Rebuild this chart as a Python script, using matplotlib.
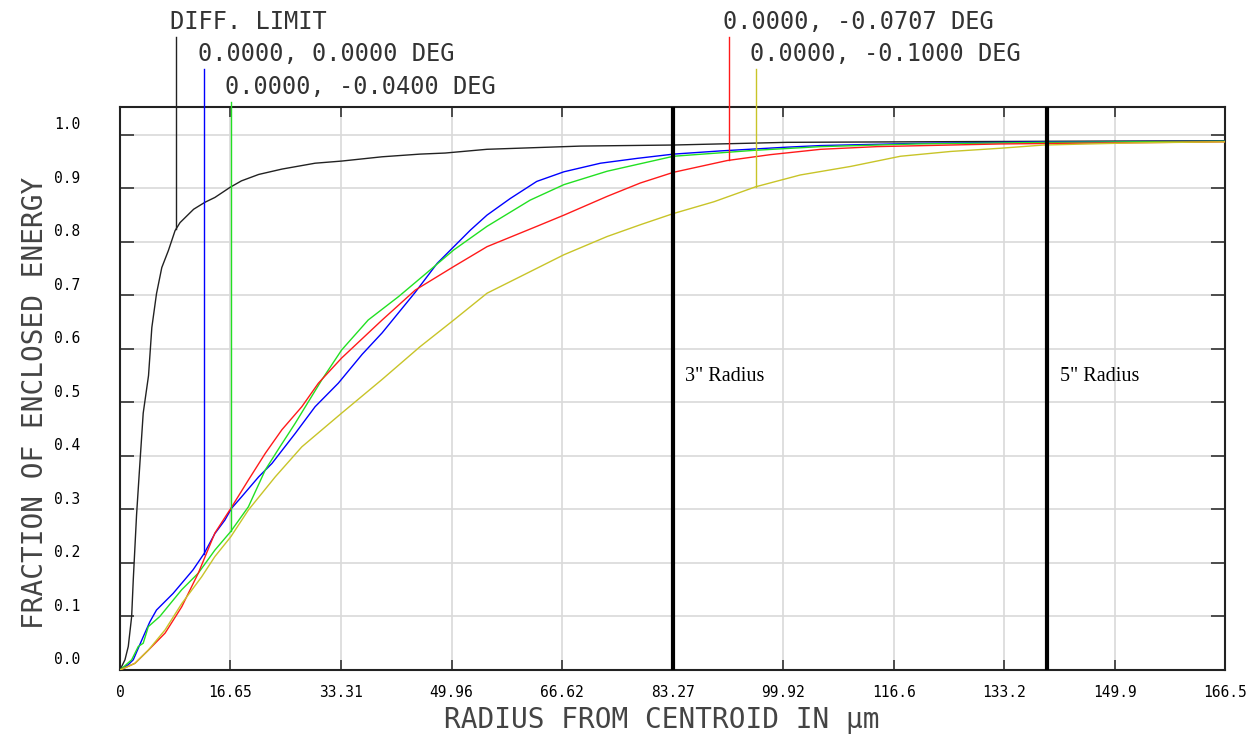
import numpy as np
import matplotlib
matplotlib.use("Agg")
import matplotlib.pyplot as plt
import matplotlib.transforms as mtransforms

plt.rcParams['font.family'] = ['DejaVu Sans Mono']

# enclosed energy curves
black_x = [0, 0.75, 1.25, 1.76, 2.0, 2.5, 3.0, 3.5, 4.3, 4.8, 5.5, 6.3, 7.3, 8.3, 9.05, 11.1, 12.8,
           14.3, 16.6, 18.3, 20.9, 24.4, 29.4, 33.4, 39.5, 45.2, 49, 55.3, 69.4, 83.4, 100.5, 120, 140, 166.5]
black_y = [0, 0.019, 0.044, 0.1, 0.168, 0.29, 0.386, 0.48, 0.55, 0.64, 0.703, 0.752, 0.784, 0.821, 0.836, 0.861, 0.874,
           0.883, 0.902, 0.914, 0.926, 0.936, 0.947, 0.951, 0.959, 0.964, 0.966, 0.973, 0.979, 0.981, 0.986, 0.987, 0.988, 0.989]

blue_x = [0, 1.25, 2.0, 3.5, 4.5, 5.5, 8.0, 11.0, 12.7, 14.3, 15.8, 16.8, 18.35, 20.9, 22.9, 26.4, 29.4, 32.9,
          36.5, 39.5, 44.5, 47.8, 50.3, 52.8, 55.3, 58.8, 62.8, 66.9, 72.4, 77.9, 83.4, 90.5, 100.5, 105.6, 120, 140, 166.5]
blue_y = [0, 0.01, 0.019, 0.062, 0.09, 0.112, 0.143, 0.187, 0.218, 0.255, 0.28, 0.302, 0.324, 0.361, 0.386, 0.442, 0.492, 0.536,
          0.59, 0.63, 0.706, 0.76, 0.791, 0.822, 0.85, 0.881, 0.913, 0.931, 0.947, 0.956, 0.964, 0.97, 0.977, 0.98, 0.984, 0.987, 0.988]

green_x = [0, 1.76, 2.76, 3.5, 4.27, 6.0, 9.3, 11.8, 14.3, 16.7, 19.35, 21.9, 24.1, 26.4, 30.4, 33.4, 37.4, 42, 46.5,
           50.3, 55.3, 61.8, 66.9, 73.4, 83.4, 95.5, 105.6, 120, 140, 166.5]
green_y = [0, 0.019, 0.044, 0.05, 0.081, 0.1, 0.15, 0.181, 0.224, 0.259, 0.305, 0.374, 0.417, 0.461, 0.542, 0.598, 0.654, 0.698, 0.745,
           0.785, 0.829, 0.878, 0.907, 0.932, 0.96, 0.971, 0.978, 0.983, 0.986, 0.988]

red_x = [0, 2.26, 4.27, 6.8, 9.3, 11.8, 14.3, 16.7, 19.35, 21.9, 24.4, 27.4, 29.9, 33.4, 39.5, 44.5, 50.3, 55.3,
         62.8, 66.9, 73.4, 78.4, 83.4, 91.5, 98, 105.6, 114.1, 132.7, 150, 166.5]
red_y = [0, 0.0125, 0.037, 0.069, 0.118, 0.181, 0.256, 0.302, 0.355, 0.405, 0.449, 0.492, 0.536, 0.583, 0.654, 0.71, 0.754, 0.791,
         0.829, 0.85, 0.885, 0.91, 0.93, 0.952, 0.963, 0.973, 0.978, 0.983, 0.985, 0.987]

yellow_x = [0, 2.26, 4.27, 6.8, 9.3, 12.3, 14.3, 16.7, 19.35, 23.4, 27.4, 33.4, 39.5, 45.2, 50.3, 55.3, 60.3, 66.9,
            73.4, 78.4, 83.4, 89.5, 95.8, 102.5, 110.1, 117.6, 125.2, 132.7, 139.2, 152.8, 166.5]
yellow_y = [0, 0.0125, 0.037, 0.075, 0.124, 0.174, 0.212, 0.249, 0.299, 0.361, 0.417, 0.48, 0.543, 0.604, 0.654, 0.704, 0.735, 0.776,
            0.81, 0.832, 0.853, 0.875, 0.903, 0.925, 0.941, 0.96, 0.969, 0.975, 0.981, 0.985, 0.987]

names = ["DIFF. LIMIT", "0.0000, 0.0000 DEG", "0.0000, -0.0400 DEG", "0.0000, -0.0707 DEG", "0.0000, -0.1000 DEG"]
colors = ["#222222", "#0000ff", "#22e022", "#ff1a1a", "#c8c428"]
leader_x = [8.45, 12.67, 16.7, 91.7, 95.8]
leader_top = [1.183, 1.123, 1.062, 1.183, 1.123]
label_y = [1.211, 1.151, 1.09, 1.211, 1.151]

xticks = [0, 16.65, 33.31, 49.96, 66.62, 83.27, 99.92, 116.6, 133.2, 149.9, 166.5]
xlabels = ["0", "16.65", "33.31", "49.96", "66.62", "83.27", "99.92", "116.6", "133.2", "149.9", "166.5"]
yticks = [0.0, 0.1, 0.2, 0.3, 0.4, 0.5, 0.6, 0.7, 0.8, 0.9, 1.0]

radius_x = [83.27, 139.7]
radius_names = ['3" Radius', '5" Radius']

fig = plt.figure(figsize=(12.55, 7.34), dpi=100)
ax = fig.add_axes([0.0956, 0.0872, 0.8805, 0.767])

series = [(black_x, black_y), (blue_x, blue_y), (green_x, green_y), (red_x, red_y), (yellow_x, yellow_y)]
for (xs, ys), c in zip(series, colors):
    ax.plot(xs, ys, color=c, lw=1.0, zorder=3)

# leader lines from each label down to its curve
for i, (xs, ys) in enumerate(series):
    lx = leader_x[i]
    ly = np.interp(lx, xs, ys)
    ax.plot([lx, lx], [ly, leader_top[i]], color=colors[i], lw=1.0, clip_on=False, zorder=3)
    ax.text(lx - 0.9, label_y[i], names[i], fontsize=17, color="#333333",
            ha="left", va="center", clip_on=False)

for rx, rn in zip(radius_x, radius_names):
    ax.axvline(rx, color="black", lw=3, zorder=4)
    ax.text(rx + 1.9, 0.548, rn, fontsize=14.5, family="Liberation Serif", ha="left", va="center")

ax.set_xlim(0, 166.5)
ax.set_ylim(0, 1.052)
ax.set_xticks(xticks)
ax.set_xticklabels(xlabels, fontsize=10.5)
ax.set_yticks(yticks)
ax.set_yticklabels([])
ax.grid(True, color="#d9d9d9", lw=1.2, zorder=0)
ax.tick_params(axis="x", direction="in", top=True, length=7, width=1.2, color="#333333", pad=11)
ax.tick_params(axis="y", direction="in", right=True, length=10, width=1.2, color="#333333")
for sp in ax.spines.values():
    sp.set_linewidth(1.5)
    sp.set_color("#222222")

# y tick labels sit a little above their gridlines
off = mtransforms.offset_copy(ax.get_yaxis_transform(), fig=fig, x=-40, y=10, units="dots")
for v in yticks:
    ax.text(0, v, "%.1f" % v, transform=off, fontsize=10.5, ha="right", va="center")

ax.set_xlabel("RADIUS FROM CENTROID IN µm", fontsize=20, color="#444444")
ax.xaxis.set_label_coords(0.49, -0.064)
ax.set_ylabel("FRACTION OF ENCLOSED ENERGY", fontsize=20, color="#444444")
ax.yaxis.set_label_coords(-0.064, 0.475)

fig.savefig("out.png", dpi=100)
